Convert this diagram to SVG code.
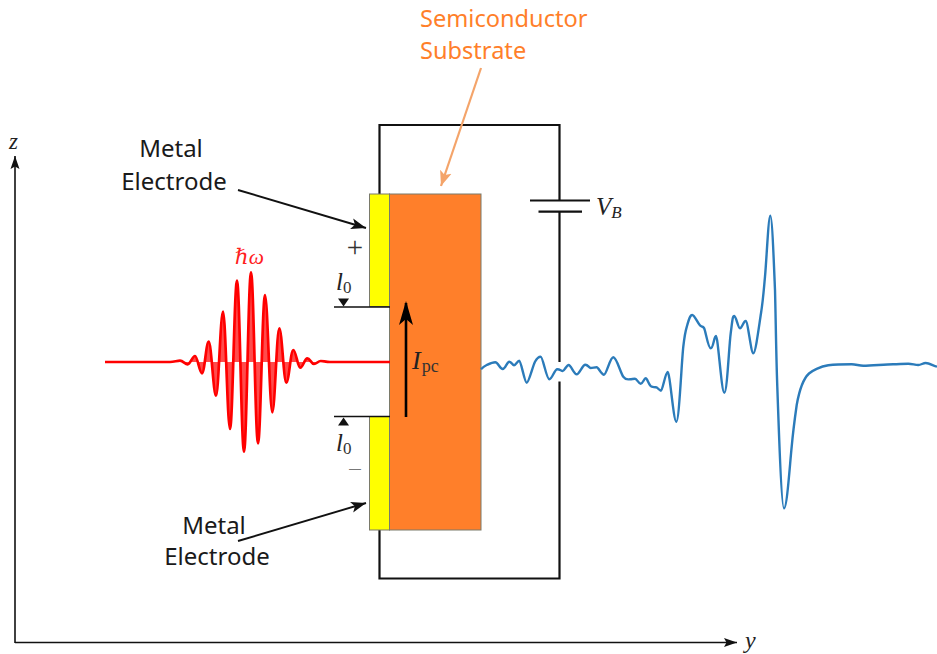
<svg xmlns="http://www.w3.org/2000/svg" width="937" height="654" viewBox="0 0 937 654">
<style>
.lbl{font-family:"Noto Sans","DejaVu Sans",sans-serif;font-size:24px;fill:#1a1a1a}
.org{fill:#ff7f2a;font-size:23.600px}
.m{font-family:"Liberation Serif","DejaVu Serif",serif;font-style:italic;fill:#222}
.u{font-family:"Liberation Serif","DejaVu Serif",serif;fill:#333}
.wire{fill:none;stroke:#111;stroke-width:2.2}
.thin{fill:none;stroke:#111;stroke-width:1.6}
.box{stroke:#7a7a6a;stroke-width:1}
</style>
<defs>
<marker id="ah" markerUnits="userSpaceOnUse" markerWidth="18" markerHeight="14" refX="15" refY="7" orient="auto"><path d="M0 1.5L15 7L0 12.5L3.5 7Z" fill="#111"/></marker>
<marker id="ahb" markerUnits="userSpaceOnUse" markerWidth="16" markerHeight="14" refX="13" refY="5" orient="auto"><path d="M0 .5L13 5L0 9.5L2.5 5Z" fill="#111"/></marker>
<marker id="aho" markerUnits="userSpaceOnUse" markerWidth="18" markerHeight="16" refX="15" refY="7" orient="auto"><path d="M0 1L15 7L0 13L3.5 7Z" fill="#f4a46a"/></marker>
</defs>
<g id="connectors">
<path class="wire" d="M559.500 200.500V125H379.500V194M379.500 530V578.500H559.500V381.500M559.500 362V212"/>
<path class="thin" d="M15 643V156" marker-end="url(#ahb)"/>
<path class="thin" d="M15 642.500H737" marker-end="url(#ahb)"/>
<path fill="none" stroke="#111" stroke-width="1.900" d="M238 190L366 228" marker-end="url(#ah)"/>
<path fill="none" stroke="#111" stroke-width="1.900" d="M238 541L366 503" marker-end="url(#ah)"/>
<path fill="none" stroke="#f4a46a" stroke-width="2.200" d="M481 68L441 186" marker-end="url(#aho)"/>
</g>
<g id="substrate"><rect class="box" x="389.500" y="194" width="91.500" height="336" fill="#ff7f2a"/></g>
<g id="electrode-top"><rect class="box" x="369.500" y="194" width="20" height="112.500" fill="#ffff00"/></g>
<g id="electrode-bottom"><rect class="box" x="369.500" y="416.500" width="20" height="113.500" fill="#ffff00"/></g>
<g id="gap-markers">
<path stroke="#111" stroke-width="1.500" d="M334 307H390M334 416.500H390"/>
<path d="M338 298.500H349L343.500 306.500Z" fill="#111"/>
<path d="M338 425.500H349L343.500 417.500Z" fill="#111"/>
<text class="m" x="336" y="290" font-size="25">l<tspan class="u" font-style="normal" font-size="17" dy="3">0</tspan></text>
<text class="m" x="336" y="451" font-size="25">l<tspan class="u" font-style="normal" font-size="17" dy="3">0</tspan></text>
<text class="u" x="355" y="257" font-size="29" text-anchor="middle">+</text>
<text class="u" transform="translate(355 475.500) scale(1.350 1)" font-size="19" text-anchor="middle" style="fill:#777">−</text>
</g>
<g id="battery">
<path stroke="#111" stroke-width="2.200" d="M530 200.500H590M538.500 211.700H582"/>
<text class="m" x="596" y="215" font-size="25">V<tspan font-size="17" dy="3">B</tspan></text>
</g>
<g id="current">
<path d="M406 417V303" fill="none" stroke="#000" stroke-width="2.600"/>
<path d="M406 301L413 325L406 319L399 325Z" fill="#000"/>
<text class="m" x="412" y="369" font-size="26">I<tspan class="u" font-style="normal" font-size="18" dy="3" dx="1">pc</tspan></text>
</g>
<g id="laser-pulse">
<path d="M105 362H170C174 362 177 360.700 180 360.700S185.100 364.300 187.700 364.300S192.400 356 195 356S199.400 373.300 202 373.300S206.100 341.700 208.700 341.700S213.400 395.700 216 395.700S220.400 311.700 223 311.700S227.400 429 230 429S234.400 280.700 237 280.700S241.400 451.700 244 451.700S248.400 272.300 251 272.300S255.400 443.300 258 443.300S262.400 295 265 295S269.700 412.300 272.300 412.300S276.700 328.300 279.300 328.300S283.700 382.700 286.300 382.700S290.700 350 293.300 350S297.700 367.700 300.300 367.700S304.700 358.300 307.300 358.300S311.400 364 314 364S318.100 361 320.700 361S326 362 330 362H390" fill="#ff0000" fill-opacity=".7" stroke="#ff0000" stroke-width="2.700"/>
<text class="m" x="235" y="264" font-size="21.500" style="fill:#ff2020">ℏω</text>
</g>
<g id="thz-signal">
<path fill="none" stroke="#2b7bba" stroke-width="2.400" stroke-linejoin="round" d="M481 369.300C483 367 484.500 366 486.700 365S492.500 362.300 495.300 362.300S500 369 502.700 369S507 361.700 509.300 361.700S512.500 365.300 514 365.300S517.500 360.700 519.300 360.700S524.500 382.700 526.700 382.700S532.700 366 535 361.700S538.500 356.700 540.700 356.700S546.500 379.300 549.300 379.300S554.500 369.300 557.300 369.300S561 371 562.700 371S566.500 365 568.700 365S574 374.300 576.700 374.300S582.500 364.700 585.300 364.700S589 368 590.700 368S595 367.300 596.700 367.300S601.500 374.700 604 374.700S610 357.300 613.300 357.300S620.500 373 623.300 376.700S628 379.300 630 379.300S633 378.700 635 378.700S638.500 383.700 640.700 383.700S644 378.300 645.700 378.300S649 386 651.700 386.700S654.500 387.300 656 387.300S659.500 390.700 661 390.700S665.500 372 667.700 372S673.500 421.700 676.300 421.700S681.500 362.800 683.300 346.700S685.800 330.300 687.300 325S690 315 692.300 315S697.500 323 700 325.300S702.500 326 704 328S708 348.300 710.700 348.300S714 336 716 336S721.500 392.700 724.300 392.700S729 346 730.700 333.300S732.500 316 734.300 316S738 328.300 740 328.300S743.500 321 745.700 321S751 353.300 753.300 353.300S759 326 761 313.300S763.500 293 765 276.700S768.500 215.700 770.300 215.700S773.800 261.500 775 290C775.800 320 776 350 777.300 386.700C778.800 430 781.500 508.300 784 508.300C787 508.300 789.800 465 791.700 446.700C793 432 795 417 796.700 405C799 392 803 379 809 373.500C812 371 820 366.500 828.300 365.300C835 364.500 845 364.300 851.700 364.300C856 364.300 859 365.700 863.300 365.700C872 365.700 885 364.300 893.300 364.300C898 364.300 903 363.700 908.300 363.700C912 363.700 915 365 918.300 365C921 365 923 363 925.700 363C929 363 933 365.500 937 366.700"/>
</g>
<g id="label-substrate"><text class="lbl org" x="420" y="27">Semiconductor</text><text class="lbl org" x="420" y="59">Substrate</text></g>
<g id="label-electrode-top"><text class="lbl" x="171" y="157" text-anchor="middle">Metal</text><text class="lbl" x="174" y="190" text-anchor="middle">Electrode</text></g>
<g id="label-electrode-bottom"><text class="lbl" x="214" y="534" text-anchor="middle">Metal</text><text class="lbl" x="217" y="565" text-anchor="middle">Electrode</text></g>
<g id="axis-labels"><text class="m" x="9" y="149" font-size="23">z</text><text class="m" x="745" y="648" font-size="24">y</text></g>
</svg>
